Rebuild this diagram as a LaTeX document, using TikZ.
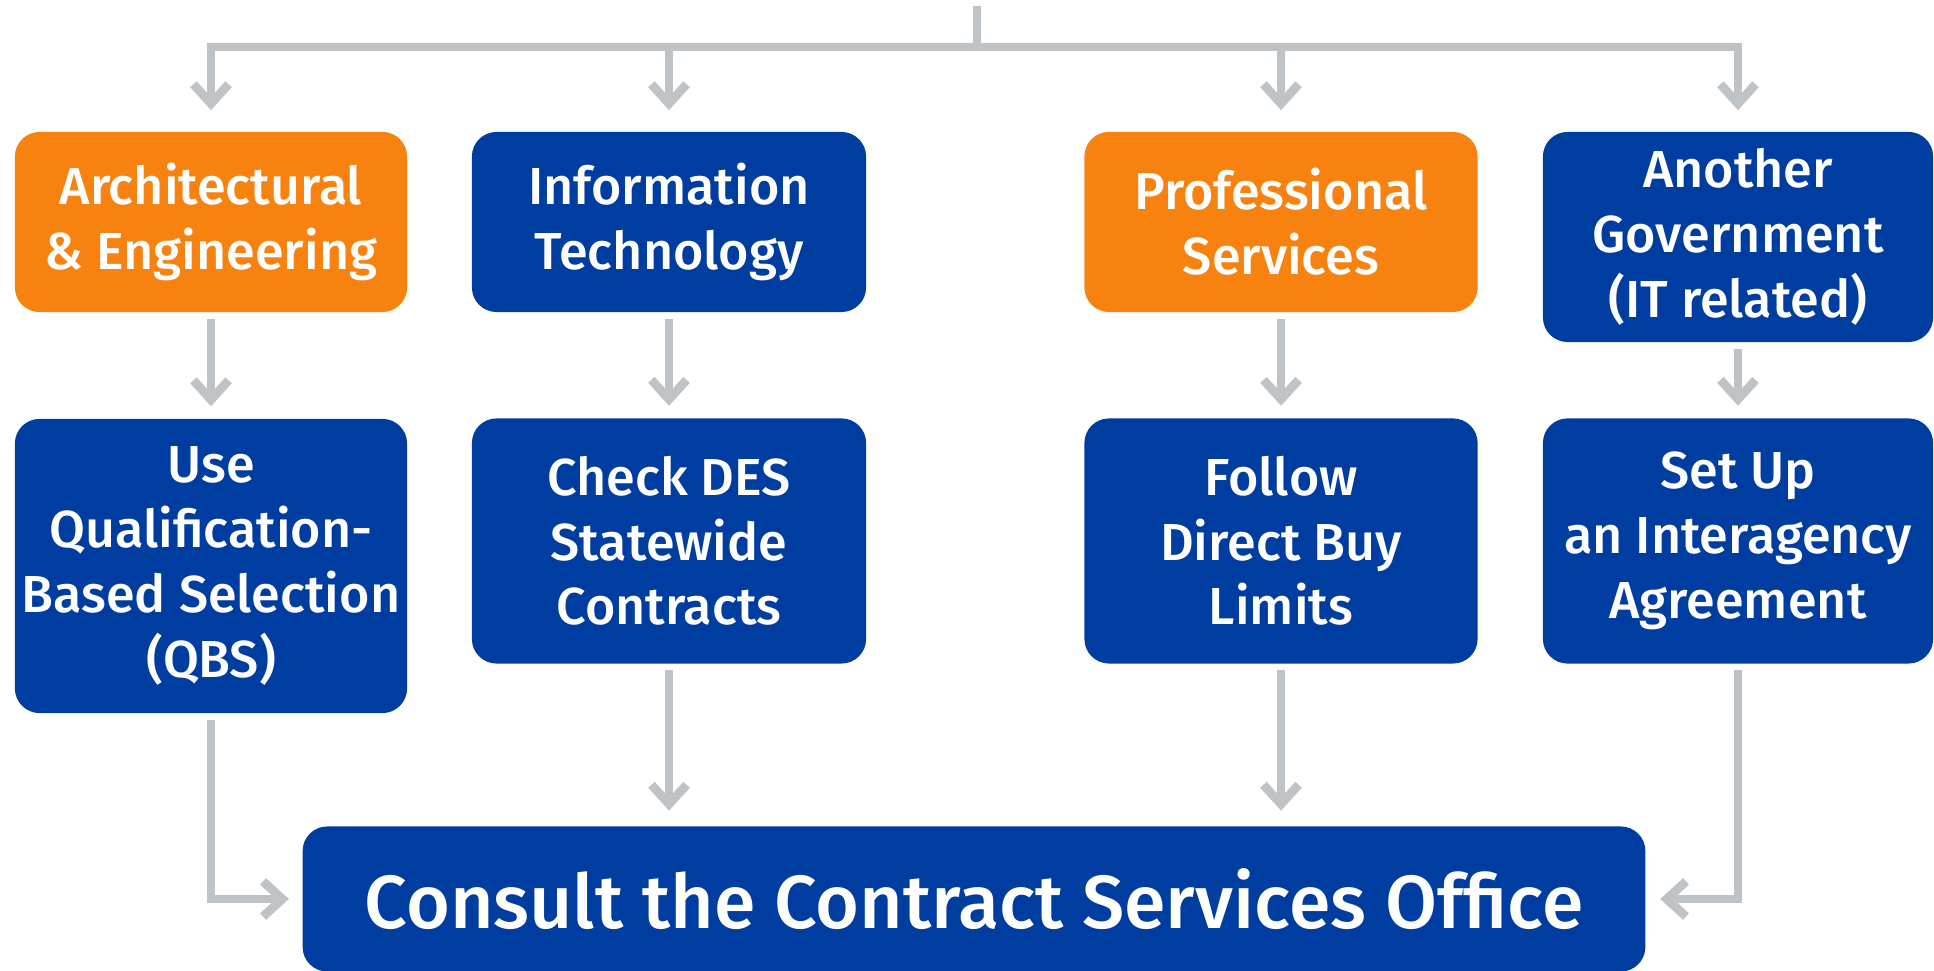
\documentclass[tikz,border=0pt]{standalone}
\usepackage{fontspec}
\setmainfont{Fira Sans}[UprightFont={* Medium}]
\usepackage{xcolor}
\usetikzlibrary{arrows.meta}

\definecolor{navy}{HTML}{003DA0}
\definecolor{amber}{HTML}{F7820F}
\definecolor{rail}{HTML}{BDC3C7}

\begin{document}
\begin{tikzpicture}[x=0.01cm,y=-0.01cm]
          \tikzset{
            BoxStyle/.style = { rectangle, rounded corners=7pt, fill=navy,
              text = white, align=center, inner sep=0pt,
              font = \fontsize{14.8}{18.4}\selectfont },
            RailStyle/.style = { draw=rail, line width=2.5pt },
            ArrowStyle/.style = { RailStyle,
              -{Straight Barb[length=5.5pt, width=10pt]} } }

          \useasboundingbox (0,0) rectangle (1934,971);

          % categories
          \node[BoxStyle, fill=amber, minimum width=3.92cm, minimum height=1.8cm] (AE) at (211,222) {Architectural\\\& Engineering};
          \node[BoxStyle, minimum width=3.94cm, minimum height=1.8cm] (IT) at (669,222) {Information\\Technology};
          \node[BoxStyle, fill=amber, minimum width=3.93cm, minimum height=1.8cm] (PS) at (1281,222) {Professional\\Services};
          \node[BoxStyle, minimum width=3.9cm, minimum height=2.1cm] (AG) at (1738,237) {Another\\Government\\(IT related)};

          % what to do
          \node[BoxStyle, minimum width=3.92cm, minimum height=2.94cm] (QBS) at (211,566) {Use\\Qualification-\\Based Selection\\(QBS)};
          \node[BoxStyle, minimum width=3.94cm, minimum height=2.45cm] (DES) at (669,541) {Check DES\\Statewide\\Contracts};
          \node[BoxStyle, minimum width=3.93cm, minimum height=2.45cm] (DBL) at (1281,541) {Follow\\Direct Buy\\Limits};
          \node[BoxStyle, minimum width=3.9cm, minimum height=2.45cm] (IAA) at (1738,541) {Set Up\\an Interagency\\Agreement};

          \node[BoxStyle, minimum width=13.42cm, minimum height=1.45cm,
            font=\fontsize{21.4}{25}\selectfont] (CSO) at (974,899) {Consult the Contract Services Office};

          % top bus
          \coordinate (root) at (977,6);
          \coordinate (bus) at (977,47);
          \draw[RailStyle] (root) -- (bus);
          \draw[RailStyle, line cap=rect] (AE |- bus) -- (AG |- bus);
          \draw[ArrowStyle, shorten >=6pt] (AE |- bus) -- (AE.north);
          \draw[ArrowStyle, shorten >=6pt] (IT |- bus) -- (IT.north);
          \draw[ArrowStyle, shorten >=6pt] (PS |- bus) -- (PS.north);
          \draw[ArrowStyle, shorten >=6pt] (AG |- bus) -- (AG.north);

          \draw[ArrowStyle, shorten <=1.7pt, shorten >=3.4pt] (AE.south) -- (QBS.north);
          \draw[ArrowStyle, shorten <=1.7pt, shorten >=3.4pt] (IT.south) -- (DES.north);
          \draw[ArrowStyle, shorten <=1.7pt, shorten >=3.4pt] (PS.south) -- (DBL.north);
          \draw[ArrowStyle, shorten <=1.7pt, shorten >=3.4pt] (AG.south) -- (IAA.north);

          % into the office
          \draw[ArrowStyle, shorten <=1.7pt, shorten >=4.3pt] (DES.south) -- (DES.south |- CSO.north);
          \draw[ArrowStyle, shorten <=1.7pt, shorten >=4.3pt] (DBL.south) -- (DBL.south |- CSO.north);
          \draw[ArrowStyle, shorten <=1.7pt, shorten >=3.7pt] (QBS.south) |- (CSO.west);
          \draw[ArrowStyle, shorten <=1.7pt, shorten >=4pt] (IAA.south) |- (CSO.east);
\end{tikzpicture}
\end{document}
